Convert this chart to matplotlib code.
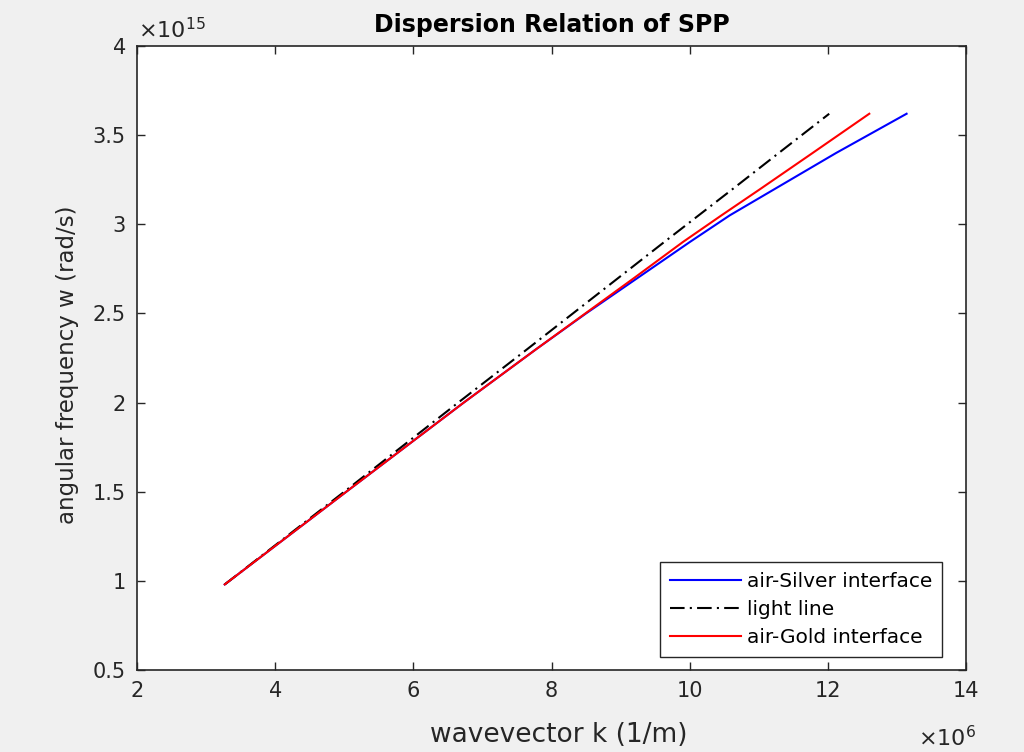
import matplotlib
matplotlib.use("Agg")
import matplotlib.pyplot as plt

# angular frequency (x 1e15 rad/s)
omega = [0.98, 1.5, 2.0, 2.3, 2.5, 2.7, 2.9, 3.05, 3.2, 3.4, 3.62]
# wavevector (x 1e6 1/m)
k_light = [3.27, 5.00, 6.65, 7.65, 8.31, 8.97, 9.63, 10.13, 10.63, 11.29, 12.02]
k_silver = [3.27, 5.03, 6.73, 7.78, 8.50, 9.25, 10.00, 10.58, 11.24, 12.12, 13.14]
k_gold = [3.27, 5.03, 6.73, 7.78, 8.49, 9.20, 9.90, 10.46, 11.03, 11.78, 12.60]

x_ticks = [2, 4, 6, 8, 10, 12, 14]
y_ticks = [0.5, 1, 1.5, 2, 2.5, 3, 3.5, 4]

plt.rcParams['font.family'] = ['DejaVu Sans']
W, H = 1024, 752
fig = plt.figure(figsize=(W / 100, H / 100), dpi=100, facecolor='#f0f0f0')
ax = fig.add_axes([137 / W, 1 - 670 / H, (966 - 137) / W, (670 - 46) / H])
ax.set_facecolor('white')

ax.plot(k_silver, omega, color='#0000ff', lw=1.5, label='air-Silver interface')
ax.plot(k_light, omega, color='black', lw=1.5, linestyle=(0, (7, 2.5, 1, 2.5)), label='light line')
ax.plot(k_gold, omega, color='#ff0000', lw=1.5, label='air-Gold interface')

ax.set_xlim(2, 14)
ax.set_ylim(0.5, 4)
ax.set_xticks(x_ticks)
ax.set_yticks(y_ticks)
ax.set_xticklabels([str(v) for v in x_ticks])
ax.set_yticklabels([('%g' % v) for v in y_ticks])

dark = '#262626'
for s in ax.spines.values():
    s.set_color(dark)
    s.set_linewidth(1.2)
ax.tick_params(direction='in', length=6, width=1.0, colors=dark, labelsize=15,
               top=True, right=True, pad=8)

fig.text(551.5 / W, 1 - 25 / H, 'Dispersion Relation of SPP', fontsize=17, fontweight='bold',
         color='black', ha='center', va='center')
fig.text(559 / W, 1 - 735 / H, 'wavevector k (1/m)', fontsize=19, color=dark,
         ha='center', va='center')
fig.text(68 / W, 1 - 365 / H, 'angular frequency w (rad/s)', fontsize=16.5, color=dark,
         ha='center', va='center', rotation=90)

fig.text(138 / W, 1 - 30 / H, r'$\times10^{15}$', fontsize=16, color=dark,
         ha='left', va='center')
fig.text(976 / W, 1 - 738 / H, r'$\times10^{6}$', fontsize=16, color=dark,
         ha='right', va='center')

leg = ax.legend(loc='lower right', bbox_to_anchor=((942 - 137) / 829, (670 - 657) / 624),
                fontsize=14.5, frameon=True, fancybox=False,
                edgecolor=dark, framealpha=1, borderaxespad=0, handlelength=3.5,
                handletextpad=0.3, labelspacing=0.45, borderpad=0.5)
leg.get_frame().set_linewidth(1.0)

fig.savefig('out.png', dpi=100, facecolor=fig.get_facecolor())
